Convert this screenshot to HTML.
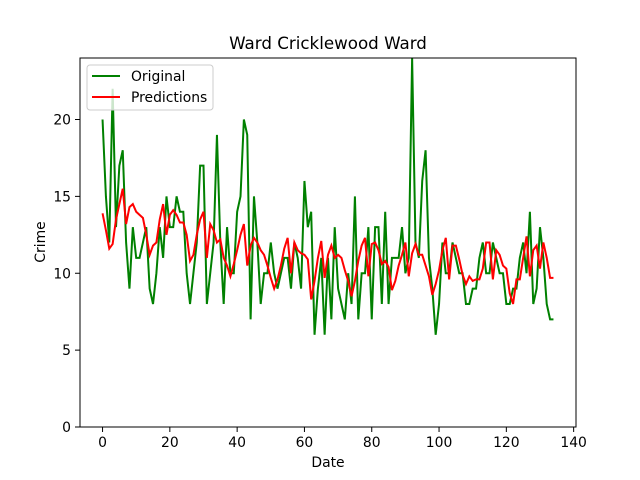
<!DOCTYPE html>
<html><head><meta charset="utf-8"><style>body{margin:0;background:#fff}svg{display:block;font-family:"DejaVu Sans","Liberation Sans",sans-serif}</style></head>
<body>
<svg id="c" width="640" height="480"></svg>
<script>
const original=[20,15,12,22,13,17,18,12,9,13,11,11,12,13,9,8,10,13,11,15,13,13,15,14,14,10,8,10,12,17,17,8,10,12,19,12,8,13,10,10,14,15,20,19,7,15,12,8,10,10,12,10,9,10,11,11,9,12,11,9,16,13,14,6,9,11,6,11,7,13,9,8,7,10,8,15,7,10,10,13,7,13,13,8,14,8,11,11,11,13,10,11,24,12,11,16,18,11,9,6,8,12,10,10,12,11,10,10,8,8,9,9,11,12,10,10,12,11,10,10,8,8,9,9,11,12,10,14,8,9,13,11,8,7,7];
const predictions=[13.9,12.8,11.6,11.9,13.5,14.5,15.5,13.2,14.3,14.5,14,13.8,13.6,12.5,11.2,11.8,12,13.5,14.5,12.5,13.8,14.1,13.8,13.3,13.3,12.5,10.8,11.2,12.5,13.5,14,11,13.2,12.8,12,12.2,11,10.5,9.8,10.6,11.5,12.5,13.2,10.5,11.8,12.3,12,11.5,11.2,10.5,9.7,9,9.6,10.5,11.6,12.3,10,12,11.5,11.3,11.2,10.9,8.3,9.5,11,12.1,9.7,11.2,11.8,11,11.2,11,10.2,9.5,8.5,9.5,10.8,11.8,12.3,9.8,11.9,12,11.5,10.6,10.8,10.4,8.9,9.5,10.5,11.2,12,9.8,11.3,11.9,11.2,11.2,10.5,9.8,8.6,9.3,10.2,11.5,12.3,9.6,11.8,11.8,10.9,9.9,9.3,9.8,9.5,9.6,9.6,10.3,12,12,9.6,11.5,11.2,10.5,10.3,8.7,8,9.6,9.6,11,12.4,9.8,11.5,11.8,10.3,12,11,9.7,9.7];
const xTicks=[0,20,40,60,80,100,120,140];
const yTicks=[0,5,10,15,20];
const L=80,R=576,T=58,B=427,x0=-6.7,x1=140.7,y0=0,y1=24;
const X=v=>L+(v-x0)/(x1-x0)*(R-L), Y=v=>B-(v-y0)/(y1-y0)*(B-T);
const s=document.getElementById('c'),NS='http://www.w3.org/2000/svg';
function mk(t,a,p){const e=document.createElementNS(NS,t);for(const k in a)e.setAttribute(k,a[k]);(p||s).appendChild(e);return e;}
function series(d,col,name){const e=mk('polyline',{points:d.map((v,i)=>X(i)+','+Y(v)).join(' '),fill:'none',stroke:col,'stroke-width':2});

}
series(original,'green','original-line');
series(predictions,'red','predictions-line');
const f=mk('rect',{x:L,y:T,width:R-L,height:B-T,fill:'none',stroke:'#000','stroke-width':1});


xTicks.forEach(v=>{mk('line',{x1:X(v),x2:X(v),y1:B,y2:B+5,stroke:'#000','stroke-width':1});
const t=mk('text',{x:X(v),y:B+20,'text-anchor':'middle','font-size':13.9});t.textContent=v;

});
yTicks.forEach(v=>{mk('line',{x1:L,x2:L-5,y1:Y(v),y2:Y(v),stroke:'#000','stroke-width':1});
const t=mk('text',{x:L-9,y:Y(v)+5,'text-anchor':'end','font-size':13.9});t.textContent=v;

});
</script>
<svg width="640" height="480" style="position:absolute;left:0;top:0">
<text x="328" y="49" text-anchor="middle" font-size="16.7">Ward Cricklewood Ward</text>
<text x="328" y="467" text-anchor="middle" font-size="13.9">Date</text>
<text x="45" y="242" text-anchor="middle" font-size="13.9" transform="rotate(-90 45 242)">Crime</text>
<g>
<rect x="87" y="65" width="126" height="45" rx="3" fill="#fff" fill-opacity="0.8" stroke="#ccc"/>
<line x1="92" x2="120" y1="76" y2="76" stroke="green" stroke-width="2"/>
<text x="131" y="81" font-size="13.9">Original</text>
<line x1="92" x2="120" y1="97" y2="97" stroke="red" stroke-width="2"/>
<text x="131" y="102" font-size="13.9">Predictions</text>
</g>
</svg>
</body></html>
